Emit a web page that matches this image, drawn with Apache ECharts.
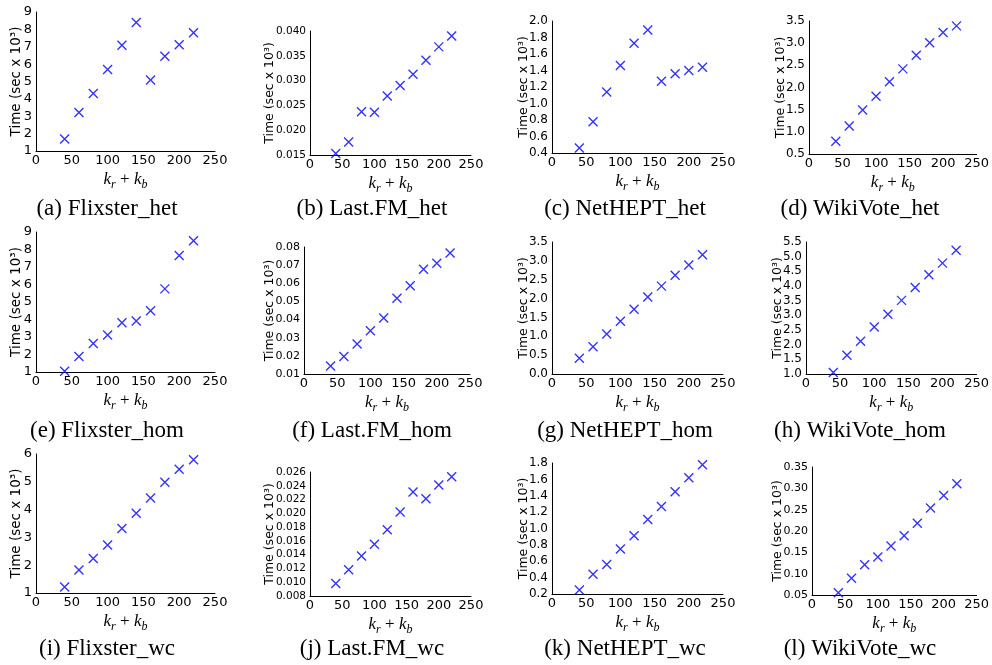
<!DOCTYPE html>
<html>
<head>
<meta charset="utf-8">
<script src="https://cdn.jsdelivr.net/npm/echarts@6/dist/echarts.min.js"></script>
<style>
  html, body { margin: 0; padding: 0; background: #fff; }
  #main { width: 992px; height: 665px; }
</style>
</head>
<body>
<div id="main"></div>
<script>
// x values (k_r + k_b)
var kValues = [40, 60, 80, 100, 120, 140, 160, 180, 200, 220];

// run time (sec x 10^3) per dataset
var flixsterHet  = [1.69, 3.22, 4.31, 5.69, 7.09, 8.39, 5.08, 6.45, 7.12, 7.81];
var lastfmHet    = [0.0153, 0.0176, 0.0237, 0.0236, 0.0269, 0.0290, 0.0313, 0.0341, 0.0368, 0.0390];
var netheptHet   = [0.46, 0.78, 1.14, 1.46, 1.73, 1.89, 1.27, 1.36, 1.40, 1.44];
var wikivoteHet  = [0.79, 1.13, 1.49, 1.80, 2.13, 2.42, 2.73, 3.01, 3.24, 3.39];
var flixsterHom  = [1.04, 1.88, 2.63, 3.11, 3.81, 3.91, 4.50, 5.75, 7.66, 8.50];
var lastfmHom    = [0.0144, 0.0197, 0.0266, 0.0338, 0.0409, 0.0517, 0.0586, 0.0678, 0.0711, 0.0767];
var netheptHom   = [0.42, 0.72, 1.06, 1.40, 1.72, 2.04, 2.33, 2.62, 2.89, 3.16];
var wikivoteHom  = [1.05, 1.64, 2.12, 2.60, 3.04, 3.51, 3.95, 4.38, 4.78, 5.22];
var flixsterWc   = [1.22, 1.83, 2.24, 2.73, 3.32, 3.87, 4.42, 4.98, 5.45, 5.79];
var lastfmWc     = [0.0098, 0.0118, 0.0138, 0.0155, 0.0176, 0.0202, 0.0231, 0.0221, 0.0241, 0.0253];
var netheptWc    = [0.25, 0.44, 0.56, 0.75, 0.91, 1.11, 1.27, 1.45, 1.62, 1.78];
var wikivoteWc   = [0.055, 0.089, 0.121, 0.139, 0.165, 0.189, 0.218, 0.254, 0.283, 0.311];

var captions = ['(a) Flixster_het', '(b) Last.FM_het', '(c) NetHEPT_het', '(d) WikiVote_het',
                '(e) Flixster_hom', '(f) Last.FM_hom', '(g) NetHEPT_hom', '(h) WikiVote_hom',
                '(i) Flixster_wc', '(j) Last.FM_wc', '(k) NetHEPT_wc', '(l) WikiVote_wc'];
var seriesData = [flixsterHet, lastfmHet, netheptHet, wikivoteHet,
                  flixsterHom, lastfmHom, netheptHom, wikivoteHom,
                  flixsterWc, lastfmWc, netheptWc, wikivoteWc];

// y axis ticks: min, max, step, decimals
var yMin   = [1, 0.015, 0.4, 0.5,   1, 0.01, 0,   1,     1, 0.008, 0.2, 0.05];
var yMax   = [9, 0.040, 2.0, 3.5,   9, 0.08, 3.5, 5.5,   6, 0.026, 1.8, 0.35];
var yStep  = [1, 0.005, 0.2, 0.5,   1, 0.01, 0.5, 0.5,   1, 0.002, 0.2, 0.05];
var yDec   = [0, 3, 1, 1,           0, 2, 1, 1,           0, 3, 1, 2];

// plot boxes [left, right, top, bottom] in px
var boxes = [
  [36, 215, 12, 151], [310, 471, 31, 155], [552, 723, 21, 153], [809, 980, 21, 154],
  [36, 215, 232, 372], [304, 470, 247, 374], [552, 723, 242, 374], [806, 977, 242, 374],
  [36, 215, 454, 593], [310, 471, 472, 596], [552, 723, 463, 594], [812, 977, 467, 595]
];
var yNameGap = [13, 34, 22, 22, 13, 28, 22, 22, 13, 34, 22, 28];
var yTickSize = [13, 10.5, 12, 12, 13, 11, 12, 12, 13, 10.5, 12, 11];
var captionX = [107, 372, 625, 860];
var captionY = [209, 431, 649];

var myChart = echarts.init(document.getElementById('main'));

var grids = [], xAxes = [], yAxes = [], series = [], texts = [];
for (var i = 0; i < 12; i++) {
  var b = boxes[i];
  grids.push({ left: b[0], top: b[2], width: b[1] - b[0], height: b[3] - b[2] });
  xAxes.push({
    gridIndex: i, type: 'value', min: 0, max: 250, interval: 50,
    name: '{i|k}{s|r}{n| + }{i|k}{s|b}',
    nameLocation: 'middle', nameGap: 17, nameMoveOverlap: false,
    nameTextStyle: {
      rich: {
        i: { fontFamily: 'Liberation Serif', fontStyle: 'italic', fontSize: 17, color: '#000', verticalAlign: 'middle' },
        s: { fontFamily: 'Liberation Serif', fontStyle: 'italic', fontSize: 12, color: '#000', verticalAlign: 'bottom', lineHeight: 23 },
        n: { fontFamily: 'Liberation Serif', fontSize: 17, color: '#000', verticalAlign: 'middle' }
      }
    },
    axisLine: { lineStyle: { color: '#000', width: 1 } },
    axisTick: { show: false },
    splitLine: { show: false },
    axisLabel: { color: '#000', fontFamily: 'DejaVu Sans', fontSize: 13, margin: 3 }
  });
  (function (dec) {
    yAxes.push({
      gridIndex: i, type: 'value', min: yMin[i], max: yMax[i], interval: yStep[i],
      name: 'Time (sec x 10³)',
      nameLocation: 'middle', nameRotate: 90, nameGap: yNameGap[i], nameMoveOverlap: false,
      nameTextStyle: { color: '#000', fontFamily: 'DejaVu Sans', fontSize: i % 4 === 0 ? 13.5 : 12.5 },
      axisLine: { show: true, lineStyle: { color: '#000', width: 1 } },
      axisTick: { show: false },
      splitLine: { show: false },
      axisLabel: {
        color: '#000', fontFamily: 'DejaVu Sans', fontSize: yTickSize[i], margin: 4,
        formatter: function (v) { return v.toFixed(dec); }
      }
    });
  })(yDec[i]);
  series.push({
    type: 'scatter', xAxisIndex: i, yAxisIndex: i,
    symbol: 'path://M0,0L10,10M10,0L0,10',
    symbolSize: 9,
    clip: false,
    itemStyle: { color: 'none', borderColor: '#0000ff', borderWidth: 1.4 },
    data: kValues.map(function (k, j) { return [k, seriesData[i][j]]; })
  });
  texts.push({
    type: 'text',
    x: captionX[i % 4], y: captionY[Math.floor(i / 4)],
    style: {
      text: captions[i],
      font: '23px "Liberation Serif"',
      fill: '#000',
      align: 'center', verticalAlign: 'middle',
      textAlign: 'center', textVerticalAlign: 'middle'
    }
  });
}

var option = {
  backgroundColor: '#fff',
  animation: false,
  grid: grids,
  xAxis: xAxes,
  yAxis: yAxes,
  series: series,
  graphic: texts
};

myChart.setOption(option);
</script>
</body>
</html>
